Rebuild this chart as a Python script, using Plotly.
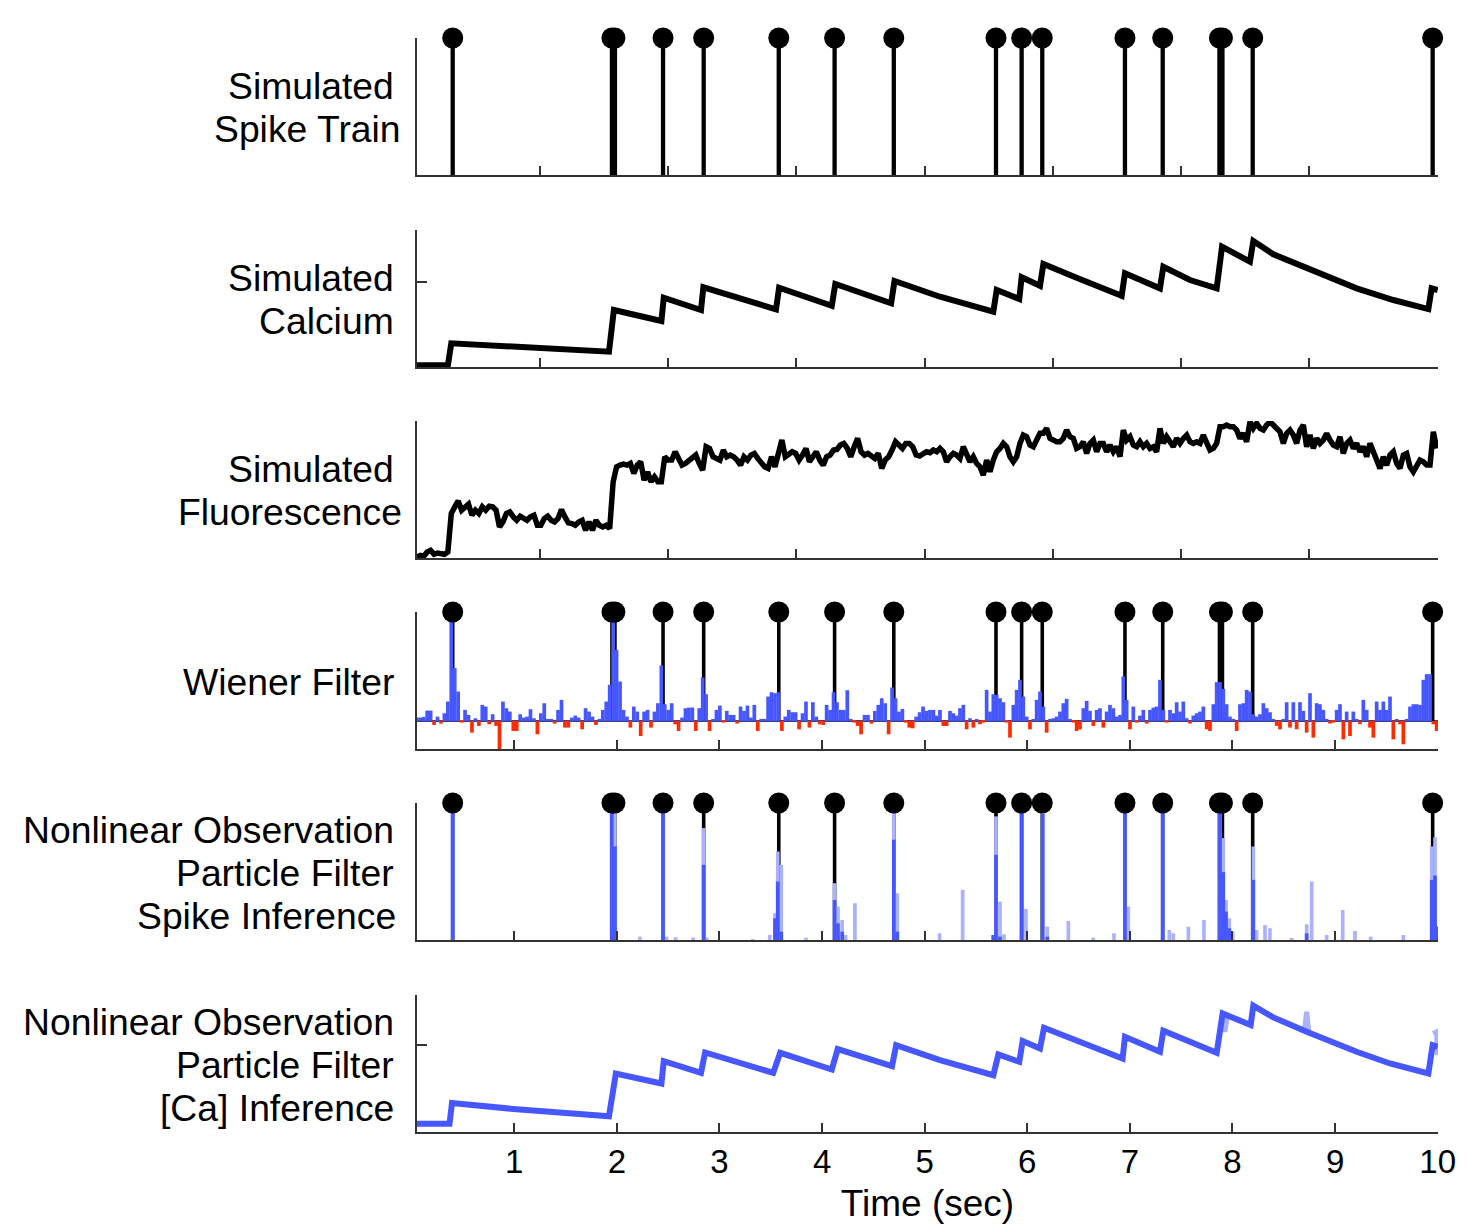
import numpy as np
import plotly.graph_objects as go

# ------------------------------------------------------------------ data
# spike times (s)
SPIKE_TIMES = [0.400, 1.952, 1.981, 2.450, 2.846, 3.578, 4.122, 4.699, 5.695,
               5.945, 6.146, 6.952, 7.320, 7.873, 7.902, 8.197, 9.951]

# simulated calcium (normalised units)
CA_T = [0.052, 0.353, 0.386, 1.923, 1.971, 2.434, 2.457, 2.820, 2.843, 3.551,
        3.581, 4.095, 4.129, 4.673, 4.706, 5.149, 5.669, 5.702, 5.922, 5.945,
        6.124, 6.157, 6.481, 6.920, 6.952, 7.293, 7.326, 7.586, 7.846, 7.898,
        8.170, 8.203, 8.398, 8.723, 9.210, 9.568, 9.909, 9.941, 10.0]
CA_V = [0.012, 0.012, 0.173, 0.112, 0.416, 0.336, 0.506, 0.416, 0.582, 0.421,
        0.579, 0.447, 0.606, 0.465, 0.628, 0.513, 0.404, 0.562, 0.496, 0.655,
        0.593, 0.752, 0.652, 0.520, 0.684, 0.574, 0.732, 0.635, 0.574, 0.878,
        0.769, 0.920, 0.823, 0.720, 0.574, 0.489, 0.423, 0.574, 0.562]

# imaging frames: two blocks of frames (start time, frame period)
FRAMES_A_T0, FRAMES_A_DT = 0.0506, 0.033562
FRAMES_B_T0, FRAMES_B_DT = 5.1491, 0.032489

# simulated fluorescence (a.u.) for frames block A and block B
F_A = [10, 15, 12, 25, 30, 18, 22, 20, 18, 25,
       140, 160, 178, 150, 160, 168, 135, 150, 140, 160,
       150, 162, 160, 150, 100, 115, 140, 145, 130, 120,
       132, 125, 120, 130, 135, 105, 105, 125, 132, 120,
       115, 125, 152, 130, 112, 110, 105, 115, 120, 90,
       115, 90, 120, 105, 100, 105, 95, 235, 280, 285,
       288, 285, 290, 260, 285, 295, 240, 265, 235, 250,
       235, 235, 310, 300, 300, 325, 305, 285, 290, 300,
       305, 315, 290, 270, 340, 335, 310, 305, 300, 330,
       310, 315, 310, 300, 285, 310, 300, 315, 320, 305,
       290, 280, 275, 310, 280, 330, 360, 310, 320, 325,
       320, 300, 315, 335, 295, 310, 325, 300, 285, 310,
       315, 330, 332, 345, 350, 335, 310, 340, 365, 325,
       315, 320, 310, 305, 320, 275, 300, 310, 330, 355,
       345, 335, 350, 350, 340, 315, 312, 320, 325, 322,
       330, 325]
F_B = [335, 325, 295, 310, 320, 315, 305, 340, 320, 295,
       310, 290, 280, 255, 300, 265, 300, 325, 335, 350,
       340, 310, 295, 310, 350, 375, 370, 345, 340, 360,
       380, 380, 395, 365, 360, 355, 355, 365, 390, 370,
       365, 335, 340, 355, 320, 350, 360, 325, 350, 350,
       325, 345, 325, 340, 310, 390, 360, 370, 345, 340,
       355, 340, 350, 335, 340, 325, 395, 350, 370, 355,
       340, 365, 350, 365, 375, 355, 350, 355, 350, 375,
       350, 330, 335, 350, 400, 400, 405, 400, 400, 390,
       365, 380, 355, 415, 395, 410, 395, 390, 405, 415,
       405, 395, 385, 350, 380, 390, 375, 350, 390, 405,
       340, 375, 335, 365, 350, 360, 380, 360, 345, 340,
       370, 320, 350, 360, 335, 350, 325, 340, 310, 350,
       320, 300, 275, 310, 285, 315, 325, 290, 275, 315,
       320, 280, 265, 285, 300, 295, 285, 285, 385, 335]

# Wiener filter output (a.u.) for frames block A and block B
W_A = [10, 10, 12, 31, 31, -12, 13, -8, 23, 58,
       306, 158, 88, -5, 33, 18, -35, 8, -15, 48,
       43, -10, 20, -15, -85, 58, 38, 28, -30, -30,
       20, 10, 13, 35, 8, -40, 23, 53, 6, 6,
       -8, 33, 63, -20, -20, 10, 16, 10, -25, 38,
       28, 13, -12, 6, 33, 58, 108, 326, 213, 118,
       33, 13, -20, 43, 28, -45, 28, 33, -20, 28,
       53, 166, 50, 33, 53, -10, -30, 10, 38, 40,
       40, -30, 38, 130, 80, -30, 6, 33, 46, -5,
       30, 18, 18, -8, 43, 30, 46, 10, 48, -30,
       6, 6, 73, 86, 83, 86, -30, 13, 33, 26,
       26, -25, 23, 58, -20, 56, 13, -10, -12, 48,
       33, 86, 56, 33, 33, 92, 6, -5, -15, -40,
       18, 18, -8, 30, 48, 68, 53, -40, 100, 68,
       28, 36, -5, -20, -22, 13, 26, 43, 30, 33,
       33, 16]
W_B = [33, -15, -15, 30, 23, 16, 38, 48, -25, 8,
       -20, 6, -10, -5, 93, 28, 80, 78, 68, 56,
       -5, -50, 48, 93, 123, 73, 13, -25, 6, 63,
       88, 43, -35, 6, 8, 13, 28, 53, 66, 6,
       -5, -30, -25, 38, 60, 30, -15, 33, 38, -20,
       28, 48, 38, 13, 18, 133, 63, -25, 43, -5,
       16, 33, -8, 33, 40, 43, 123, 33, -5, 33,
       23, 56, 28, 58, 8, -8, 16, 23, 28, 43,
       -25, -30, 50, 116, 116, 96, 50, 13, 6, -30,
       50, 53, 93, 88, 20, 13, 20, 53, 38, 26,
       3, -15, -25, 6, 56, -20, 56, -25, 56, 30,
       -35, 83, -50, 53, 50, 33, 6, -8, -5, 33,
       50, -55, 28, -45, 28, 6, -10, 63, 33, -20,
       -50, 58, 33, 58, 33, 73, -55, 6, -10, -70,
       6, 43, 50, 50, 48, 123, 140, 140, -10, -30]

# particle filter spike inference (a.u.): mean (dark) and upper (light)
PF_T = [0.400, 1.950, 1.981, 2.225, 2.450, 2.484, 2.574, 2.743, 2.846, 2.876,
        3.323, 3.490, 3.541, 3.568, 3.602, 3.843, 4.122, 4.155, 4.196, 4.229,
        4.320, 4.699, 4.733, 5.145, 5.370, 5.669, 5.695, 5.734, 5.773, 5.945,
        5.987, 6.150, 6.195, 6.400, 6.643, 6.845, 6.952, 6.985, 7.320, 7.384,
        7.423, 7.570, 7.722, 7.878, 7.910, 7.937, 7.969, 8.002, 8.203, 8.235,
        8.317, 8.365, 8.577, 8.723, 8.772, 8.918, 9.074, 9.194, 9.347, 9.665,
        9.942, 9.974, 9.995]
PF_MEAN = [410, 410, 280, 0, 410, 0, 0, 0, 225, 0,
           0, 0, 65, 175, 25, 0, 120, 50, 25, 0,
           0, 300, 25, 0, 0, 15, 255, 10, 0, 410,
           0, 377, 10, 0, 0, 0, 400, 0, 410, 0,
           0, 0, 0, 405, 203, 85, 35, 0, 180, 0,
           0, 0, 0, 20, 0, 0, 0, 0, 0, 0,
           180, 193, 40]
PF_UPPER = [410, 410, 390, 10, 410, 10, 8, 7, 335, 7,
            3, 15, 80, 265, 225, 7, 170, 100, 60, 15,
            110, 390, 140, 20, 150, 15, 370, 115, 17, 410,
            93, 410, 40, 57, 7, 20, 410, 100, 410, 30,
            20, 40, 60, 410, 305, 120, 65, 25, 280, 30,
            45, 35, 5, 47, 175, 15, 90, 27, 10, 15,
            280, 307, 40]

# particle filter [Ca] inference (a.u.)
CAI_T = [0.052, 0.369, 0.393, 0.990, 1.923, 1.990, 2.434, 2.457, 2.820, 2.860,
         3.524, 3.592, 4.095, 4.152, 4.682, 4.722, 5.149, 5.669, 5.718, 5.922,
         5.955, 6.124, 6.163, 6.513, 6.929, 6.952, 7.293, 7.326, 7.586, 7.846,
         7.904, 8.177, 8.203, 8.398, 8.723, 9.210, 9.535, 9.909, 9.951, 10.0]
CAI_V = [25, 25, 87, 69, 47, 175, 145, 212, 177, 238,
         177, 237, 187, 248, 197, 260, 215, 170, 232, 210,
         272, 250, 312, 270, 220, 285, 240, 303, 270, 237,
         355, 320, 378, 343, 300, 240, 205, 175, 260, 255]
CAI_SPREAD_T = [7.900, 7.925, 7.950, None, 8.700, 8.723, 8.745, None, 9.955, 9.990, 9.995]
CAI_SPREAD_V = [345, 300, 345, None, 302, 360, 298, None, 295, 300, 230]

TOP_TICKS = [1.25, 2.5, 3.75, 5.0, 6.25, 7.5, 8.75, 10.0]
SEC_TICKS = [1, 2, 3, 4, 5, 6, 7, 8, 9, 10]
ROW_LABELS = [["Simulated", "Spike Train"],
              ["Simulated", "Calcium"],
              ["Simulated", "Fluorescence"],
              ["Wiener Filter"],
              ["Nonlinear Observation", "Particle Filter", "Spike Inference"],
              ["Nonlinear Observation", "Particle Filter", "[Ca] Inference"]]

# ------------------------------------------------------------------ style
W_PX, H_PX = 1468, 1228
M_L, M_R, M_T, M_B = 417, 30, 38, 96
PANELS_PX = [(38, 175), (230, 367), (421, 558), (612, 749), (803, 940), (995, 1132)]
LABEL_RIGHT_PX = [[396, 403], [396, 396], [396, 404], [396],
                  [396, 396, 398], [396, 396, 396]]
Y_RANGES = [[0, 1], [0, 1], [7, 417], [-84, 326], [0, 410], [0, 410]]
Y_TICKS = [[1], [0.62], [], [326], [410], [260]]
X_RANGE = [0.052, 10.003]
BLACK = "#000000"
BLUE = "#4657FF"
LIGHT = "#AAB2FF"
RED = "#FF2B00"
AXIS = "#333333"
FONT = "Liberation Sans"
PLOT_H = H_PX - M_T - M_B
PLOT_W = W_PX - M_L - M_R


def ypaper(px):
    return (H_PX - M_B - px) / PLOT_H


fig = go.Figure()

spk = np.array(SPIKE_TIMES)
tA = FRAMES_A_T0 + FRAMES_A_DT * np.arange(len(F_A))
tB = FRAMES_B_T0 + FRAMES_B_DT * np.arange(len(F_B))
t_frames = np.concatenate([tA, tB])
F = np.array(F_A + F_B)
wA = FRAMES_A_T0 + FRAMES_A_DT * np.arange(len(W_A))
wB = FRAMES_B_T0 + FRAMES_B_DT * np.arange(len(W_B))
t_w = np.concatenate([wA, wB])
W = np.array(W_A + W_B, dtype=float)
W_pos = np.where(W > 0, W, 0)
W_neg = np.where(W < 0, W, 0)


def stems(row, top, width):
    fig.add_trace(go.Bar(x=spk, y=[top] * len(spk), width=width,
                         marker=dict(color=BLACK, line=dict(width=0)),
                         xaxis=f"x{row}", yaxis=f"y{row}", hoverinfo="skip"))


def heads(row, top):
    fig.add_trace(go.Scatter(x=spk, y=[top] * len(spk), mode="markers",
                             marker=dict(color=BLACK, size=21, line=dict(width=0)),
                             cliponaxis=False, xaxis=f"x{row}", yaxis=f"y{row}"))


# panel 1: spike train
stems(1, Y_RANGES[0][1], 0.042)
heads(1, Y_RANGES[0][1])

# panel 2: calcium
fig.add_trace(go.Scatter(x=CA_T, y=CA_V, mode="lines",
                         line=dict(color=BLACK, width=6),
                         xaxis="x2", yaxis="y2"))

# panel 3: fluorescence
fig.add_trace(go.Scatter(x=t_frames, y=F, mode="lines",
                         line=dict(color=BLACK, width=5.5),
                         xaxis="x3", yaxis="y3"))

# panel 4: Wiener filter
stems(4, Y_RANGES[3][1], 0.035)
fig.add_trace(go.Bar(x=t_w, y=W_pos, width=0.036,
                     marker=dict(color=BLUE, line=dict(width=0)),
                     xaxis="x4", yaxis="y4"))
fig.add_trace(go.Bar(x=t_w, y=W_neg, width=0.036,
                     marker=dict(color=RED, line=dict(width=0)),
                     xaxis="x4", yaxis="y4"))
heads(4, Y_RANGES[3][1])

# panel 5: particle filter spike inference
stems(5, Y_RANGES[4][1], 0.035)
fig.add_trace(go.Bar(x=PF_T, y=PF_UPPER, width=0.036,
                     marker=dict(color=LIGHT, line=dict(width=0)),
                     xaxis="x5", yaxis="y5"))
fig.add_trace(go.Bar(x=PF_T, y=PF_MEAN, width=0.036,
                     marker=dict(color=BLUE, line=dict(width=0)),
                     xaxis="x5", yaxis="y5"))
heads(5, Y_RANGES[4][1])

# panel 6: [Ca] inference
fig.add_trace(go.Scatter(x=CAI_SPREAD_T, y=CAI_SPREAD_V, mode="lines",
                         line=dict(color=LIGHT, width=5), connectgaps=False,
                         xaxis="x6", yaxis="y6"))
fig.add_trace(go.Scatter(x=CAI_T, y=CAI_V, mode="lines",
                         line=dict(color=BLUE, width=6),
                         xaxis="x6", yaxis="y6"))

layout = dict(width=W_PX, height=H_PX,
              margin=dict(l=M_L, r=M_R, t=M_T, b=M_B),
              plot_bgcolor="white", paper_bgcolor="white",
              showlegend=False, barmode="overlay",
              font=dict(family=FONT, color="black"))

for i in range(6):
    r = i + 1
    top_px, bot_px = PANELS_PX[i]
    xt = TOP_TICKS if r <= 3 else SEC_TICKS
    xa = dict(domain=[0, 1], anchor=f"y{r}", range=X_RANGE,
              showline=True, linecolor=AXIS, linewidth=1.6,
              ticks="inside", ticklen=9, tickwidth=1.6, tickcolor=AXIS,
              tickvals=xt, showticklabels=False, showgrid=False, zeroline=False)
    if r == 6:
        xa.update(showticklabels=True, ticktext=[str(v) for v in SEC_TICKS],
                  tickfont=dict(family=FONT, size=33, color="black"),
                  title=dict(text="Time (sec)", standoff=11,
                             font=dict(family=FONT, size=37, color="black")))
    ya = dict(domain=[ypaper(bot_px), ypaper(top_px)], anchor=f"x{r}",
              range=Y_RANGES[i], showline=True, linecolor=AXIS, linewidth=1.6,
              ticks="inside", ticklen=10, tickwidth=1.6, tickcolor=AXIS,
              tickvals=Y_TICKS[i], showticklabels=False, showgrid=False,
              zeroline=False)
    if r == 4:
        ya.update(zeroline=True, zerolinecolor="#3b4080", zerolinewidth=1.5)
    layout["xaxis" if r == 1 else f"xaxis{r}"] = xa
    layout["yaxis" if r == 1 else f"yaxis{r}"] = ya

fig.update_layout(**layout)

# row labels
LINE_GAP = 43
annotations = []
for i, lines in enumerate(ROW_LABELS):
    top_px, bot_px = PANELS_PX[i]
    centre = (top_px + bot_px) / 2 + 1
    n = len(lines)
    for j, txt in enumerate(lines):
        py = centre + (j - (n - 1) / 2) * LINE_GAP
        annotations.append(dict(text=txt, xref="paper", yref="paper",
                                x=(LABEL_RIGHT_PX[i][j] - M_L) / PLOT_W, y=ypaper(py),
                                xanchor="right", yanchor="middle", showarrow=False,
                                font=dict(family=FONT, size=37.3, color="black")))
fig.update_layout(annotations=annotations)

fig.write_html("out.html")
